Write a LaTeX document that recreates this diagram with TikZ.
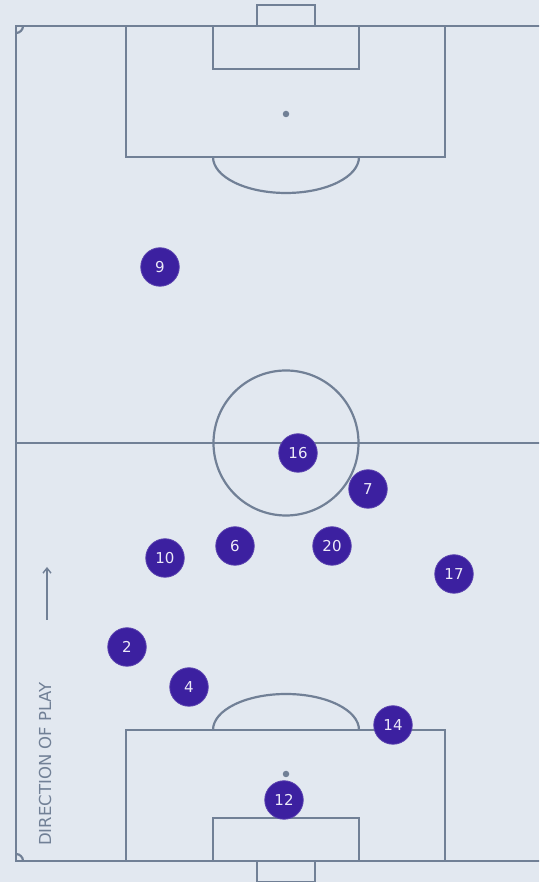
\documentclass[tikz,border=0pt]{standalone}
\usepackage{fontspec}
\setmainfont{DejaVu Sans}
\usetikzlibrary{arrows.meta}
\definecolor{bg}{HTML}{E2E8F0}
\definecolor{pline}{HTML}{718096}
\definecolor{player}{HTML}{3C20A0}
\definecolor{ptext}{HTML}{ECEAF7}
\tikzset{
  pitch/.style={draw=pline, line width=2.2pt},
  playerdot/.style={circle, fill=player, draw=player!85!white, line width=0.8pt, minimum size=38.5pt, inner sep=0pt, text=ptext, font=\fontsize{15}{15}\selectfont},
  spot/.style={circle, fill=pline, inner sep=0pt, minimum size=6.5pt},
  dirtext/.style={text=pline, font=\fontsize{16.5}{16.5}\selectfont, rotate=90}
}
\begin{document}
\begin{tikzpicture}[x=1pt,y=1pt]
\fill[bg] (0,0) rectangle (539,882);
\useasboundingbox (0,0) rectangle (539,882);
\begin{scope}
\clip (0,0) rectangle (539,882);
% outer lines
\draw[pitch] (560,856) -- (16,856) -- (16,21) -- (560,21);
\draw[pitch] (16,439) -- (560,439);
% centre circle
\draw[pitch] (286,439) circle[radius=72.5];
% top end
\draw[pitch] (126,856) -- (126,725) -- (445,725) -- (445,856);
\draw[pitch] (213,856) -- (213,813) -- (359,813) -- (359,856);
\draw[pitch] (257,856) -- (257,877) -- (315,877) -- (315,856);
\draw[pitch] (213,725) arc[start angle=180, end angle=360, x radius=73, y radius=36];
\node[spot] (tspot) at (286,768) {};
% bottom end
\draw[pitch] (126,21) -- (126,152) -- (445,152) -- (445,21);
\draw[pitch] (213,21) -- (213,64) -- (359,64) -- (359,21);
\draw[pitch] (257,21) -- (257,0) -- (315,0) -- (315,21);
\draw[pitch] (213,152) arc[start angle=180, end angle=0, x radius=73, y radius=36];
\node[spot] (bspot) at (286,108) {};
% corner arcs
\draw[pitch] (23,856) arc[start angle=0, end angle=-90, radius=7];
\draw[pitch] (16,28) arc[start angle=90, end angle=0, radius=7];
\end{scope}
% direction of play
\coordinate (arrS) at (47,262);
\coordinate (arrE) at (47,315);
\draw[draw=pline, line width=1.4pt, -{Straight Barb[length=5pt,width=8pt]}] (arrS) -- (arrE);
\node[dirtext] (dir) at (45,118) {DIRECTION OF PLAY};
% players
\node[playerdot] (p9) at (160,615) {9};
\node[playerdot] (p16) at (298,429) {16};
\node[playerdot] (p7) at (368,393) {7};
\node[playerdot] (p10) at (165,324) {10};
\node[playerdot] (p6) at (235,336) {6};
\node[playerdot] (p20) at (332,336) {20};
\node[playerdot] (p17) at (454,308) {17};
\node[playerdot] (p2) at (127,235) {2};
\node[playerdot] (p4) at (189,195) {4};
\node[playerdot] (p14) at (393,157) {14};
\node[playerdot] (p12) at (284,82) {12};
\end{tikzpicture}
\end{document}
